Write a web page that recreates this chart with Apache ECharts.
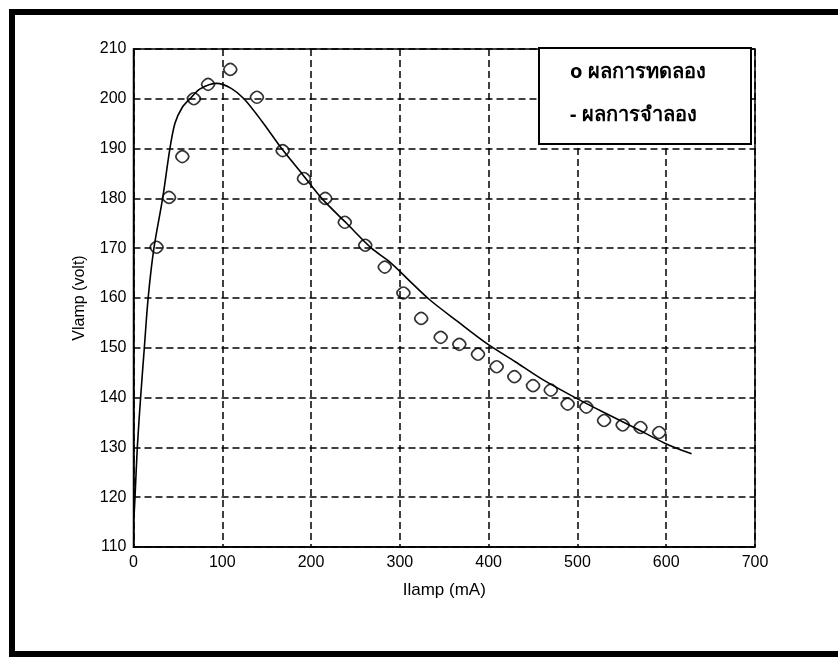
<!DOCTYPE html>
<html>
<head>
<meta charset="utf-8">
<script src="https://cdn.jsdelivr.net/npm/echarts@6/dist/echarts.min.js"></script>
<style>
html,body{margin:0;padding:0;background:#fff;}
#c{width:838px;height:657px;}
</style>
</head>
<body>
<div id="c"></div>
<script>
// Experimental data (markers)
const expCurrent = [26,40,55,68,84,109,139,168,192,216,238,261,283,304,324,346,367,388,409,429,450,470,489,510,530,551,571,592];
const expVoltage = [170.2,180.2,188.4,200,202.9,205.9,200.3,189.6,184,180,175.2,170.6,166.2,161,155.9,152.1,150.7,148.7,146.2,144.2,142.4,141.5,138.7,138.1,135.4,134.5,134,133];
// Simulation curve
const simCurrent = [0.5,1.7,4.3,8,12.2,16.5,23,32.8,41,46.7,55,63.6,75,93.7,110,124.4,145,166.9,190,212,240,268,288.8,310,333.9,365,397.7,430,460,495.3,530,565,598.9,628.6];
const simVoltage = [115.8,120,130,140,150,160,170,180,190,195.1,198.3,200,202,203.1,202.1,200,195.4,190,184.9,180,175,170,167.2,163.6,159.6,155.3,150.9,147.2,143.7,140.2,137,133.9,130.8,128.7];
const seriesNames = ['ผลการทดลอง','ผลการจำลอง'];
const legendPrefix = ['o ','- '];
const xTicks = {min:0, max:700, interval:100};
const yTicks = {min:110, max:210, interval:10};

const chart = echarts.init(document.getElementById('c'), null, {renderer:'canvas'});
const gridLine = {show:true, lineStyle:{color:'#000', width:1.5, type:[7,4]}};
const labelStyle = {color:'#000', fontSize:16, fontFamily:'Liberation Sans, Arial, sans-serif'};
chart.setOption({
  animation:false,
  backgroundColor:'#fff',
  graphic:[{type:'rect', shape:{x:12,y:12,width:840,height:642}, style:{fill:null, stroke:'#000', lineWidth:6}, z:100}],
  grid:{left:133.5, top:49, right:83, bottom:110, show:true, borderColor:'#000', borderWidth:1.5, backgroundColor:'transparent'},
  legend:{
    left:539, top:48, orient:'vertical',
    icon:'none', itemWidth:0, itemHeight:14, itemGap:23,
    padding:[14,5,19,26],
    backgroundColor:'#fff', borderColor:'#000', borderWidth:2,
    formatter:function(n){return legendPrefix[seriesNames.indexOf(n)] + n;},
    textStyle:{color:'#000', fontSize:20, fontWeight:'bold', width:176, lineHeight:20, fontFamily:'Noto Sans, DejaVu Sans, sans-serif'},
    data:seriesNames, z:10
  },
  xAxis:{
    type:'value', min:xTicks.min, max:xTicks.max, interval:xTicks.interval,
    name:'Ilamp (mA)', nameLocation:'middle', nameGap:35,
    nameTextStyle:{color:'#000', fontSize:17, fontFamily:'Liberation Sans, Arial, sans-serif'},
    axisLine:{show:true, onZero:false, lineStyle:{color:'#000', width:1.5}},
    axisTick:{show:false},
    axisLabel:Object.assign({margin:8}, labelStyle),
    splitLine:gridLine
  },
  yAxis:{
    type:'value', min:yTicks.min, max:yTicks.max, interval:yTicks.interval,
    name:'Vlamp (volt)', nameLocation:'middle', nameGap:46,
    nameTextStyle:{color:'#000', fontSize:16, fontFamily:'Liberation Sans, Arial, sans-serif'},
    axisLine:{show:true, onZero:false, lineStyle:{color:'#000', width:1.5}},
    axisTick:{show:false},
    axisLabel:Object.assign({margin:7}, labelStyle),
    splitLine:gridLine
  },
  series:[
    {
      name:seriesNames[0], type:'scatter',
      data:expCurrent.map((x,i)=>[x, expVoltage[i]]),
      symbol:'path://M0,-6 C2.4,-6 6,-2.4 6,0 C6,2.4 2.4,6 0,6 C-2.4,6 -6,2.4 -6,0 C-6,-2.4 -2.4,-6 0,-6Z',
      symbolSize:[13,12],
      itemStyle:{color:'rgba(255,255,255,0)', borderColor:'#000', borderWidth:1.7},
      z:3
    },
    {
      name:seriesNames[1], type:'line',
      data:simCurrent.map((x,i)=>[x, simVoltage[i]]),
      showSymbol:false, smooth:0.3,
      lineStyle:{color:'#000', width:1.6},
      itemStyle:{color:'#000'},
      z:2
    }
  ]
});
</script>
</body>
</html>
